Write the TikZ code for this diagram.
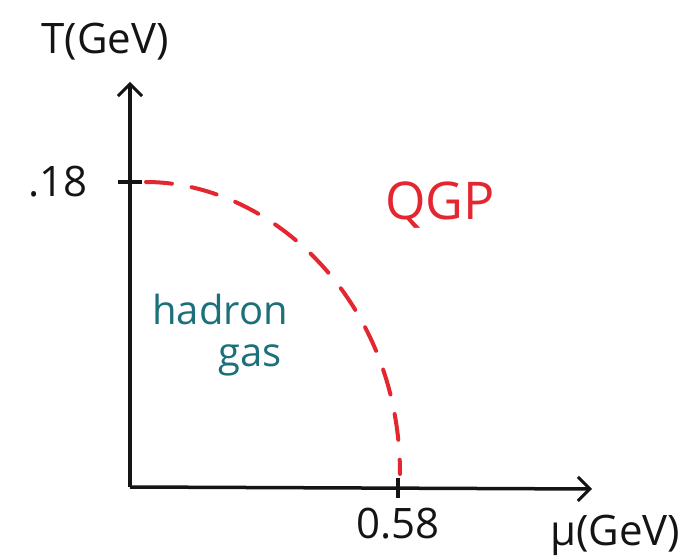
\documentclass[tikz,border=0pt]{standalone}
\usepackage{fontspec}
\setmainfont{Open Sans}
\usepackage{tikz}
\usetikzlibrary{arrows.meta,positioning,calc}
\definecolor{ink}{RGB}{20,20,20}
\definecolor{qgpred}{RGB}{228,38,48}
\definecolor{teal}{RGB}{28,112,122}
\tikzset{
  axis/.style={-{Straight Barb[length=12pt,width=24pt,line width=3pt]},line width=3.5pt,draw=ink},
  tick/.style={line width=3.5pt,draw=ink},
  border/.style={dashed,dash pattern=on 26pt off 20pt,line width=4pt,draw=qgpred,line cap=round},
  lbl/.style={font=\fontsize{42}{46}\selectfont,text=ink,inner sep=0pt},
  phase/.style={font=\fontsize{40}{46}\selectfont,text=teal,inner sep=0pt}
}
\begin{document}
\begin{tikzpicture}[x=1pt,y=1pt]
  \useasboundingbox (0,0) rectangle (697,560);
  \coordinate (origin) at (130,73);
  \coordinate (ytop) at (130,478);
  \coordinate (xend) at (592,71);
  \coordinate (tcrit) at (130,378);
  \coordinate (mucrit) at (398,72);
  % axes and ticks
  \draw[axis] (origin) -- (ytop);
  \draw[axis] (origin) -- (xend);
  \draw[tick] ($(tcrit)+(-12,0)$) -- ($(tcrit)+(12,0)$);
  \draw[tick] ($(mucrit)+(0,-10)$) -- ($(mucrit)+(0,10)$);
  % phase boundary
  \coordinate (bstart) at (146,378);
  \coordinate (bend) at (400,86);
  \draw[border] (bstart) .. controls (270,378) and (400,260) .. (bend);
  % labels
  \node[lbl] (tlabel) at (105,518) {T(GeV)};
  \node[lbl,left=42pt of tcrit] (tval) {.18};
  \node[lbl,below=20pt of mucrit] (muval) {0.58};
  \node[lbl] (mulabel) at (615,25) {μ(GeV)};
  \node[lbl,text=qgpred,font=\fontsize{52}{56}\selectfont] (qgp) at (440,355) {QGP};
  \node[phase] (hadron) at (220,250) {hadron};
  \node[phase] (gas) at (250,200) {gas};
\end{tikzpicture}
\end{document}
